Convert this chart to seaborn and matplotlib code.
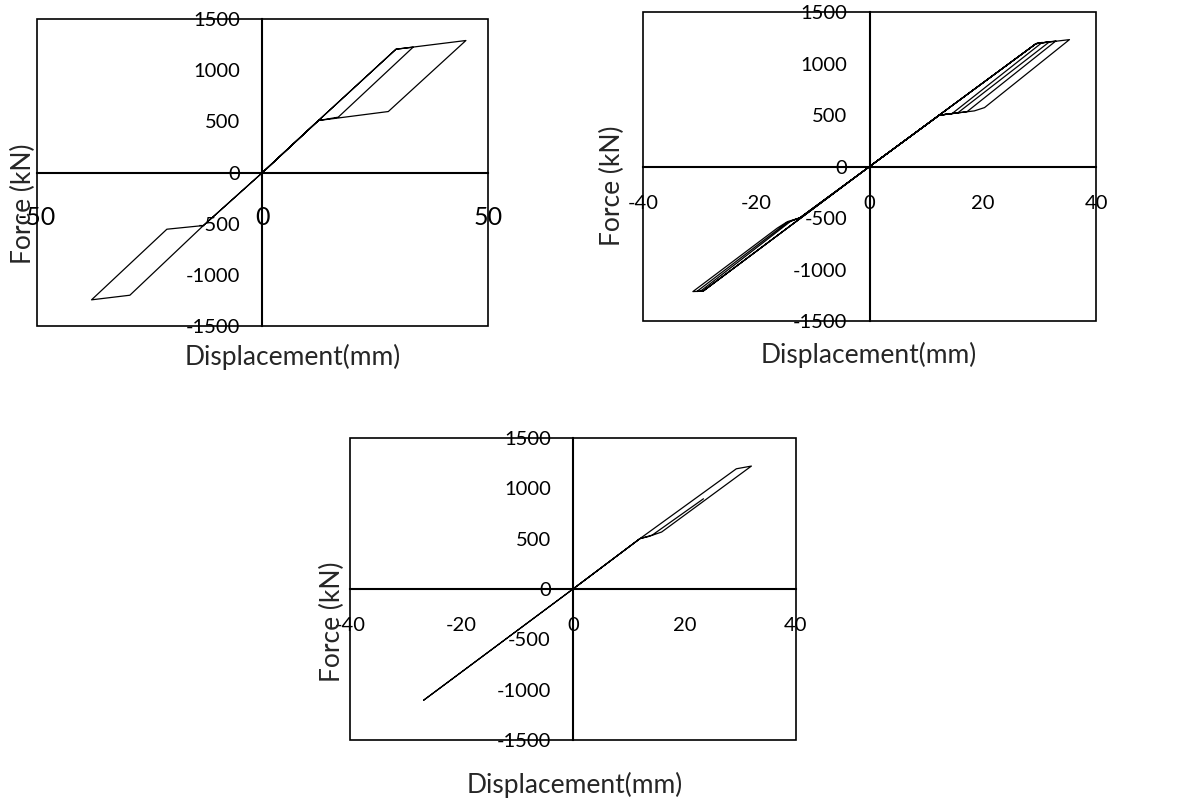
import matplotlib.pyplot as plt
import seaborn as sns
from matplotlib.patches import Rectangle

# panel 1 (top left)
disp_a = [0, 12.4, 29.6, 33.4, 16.8, 12.4, 0, -13.1, -29.4, -37.9, -21.2, -13.1, 0,
          12.4, 29.6, 45.1, 27.9, 12.4, 0]
force_a = [0, 508, 1205, 1225, 541, 508, 0, -518, -1199, -1244, -554, -518, 0,
           508, 1205, 1290, 596, 508, 0]

# panel 2 (top right)
disp_b = [0, 29.4, 30.5, 14.6, 12.3, 0, -29.4, -29.9, -13.9, -12.3, 0,
          29.4, 31.8, 15.6, 12.3, 0, -29.4, -30.5, -14.6, -12.3, 0,
          29.4, 32.9, 17.2, 12.3, 0, -29.4, -31.2, -16.3, -14.5, -12.3, 0,
          29.4, 35.3, 20.3, 18.5, 16.5, 12.3, 0]
force_b = [0, 1193, 1205, 515, 498, 0, -1210, -1212, -530, -498, 0,
           1193, 1212, 522, 498, 0, -1210, -1213, -545, -498, 0,
           1193, 1219, 532, 498, 0, -1210, -1214, -598, -535, -498, 0,
           1193, 1232, 572, 540, 527, 498, 0]

# panel 3 (bottom)
disp_c = [0, 12.0, 29.3, 32.0, 15.9, 13.5, 12.0, 0, -26.8, 0, 12.0, 14.2, 23.4]
force_c = [0, 500, 1194, 1221, 566, 520, 500, 0, -1105, 0, 500, 535, 896]

yticks = [-1500, -1000, -500, 0, 500, 1000, 1500]

sns.set_style('white')
plt.rcParams['font.family'] = ['Lato', 'DejaVu Sans']
plt.rcParams['axes.unicode_minus'] = False

fig = plt.figure(figsize=(11.81, 8.06), dpi=100)


def panel(rect, x, y, xlim, xticks, xsize, xpad, xlab_pos, ylab_pos):
    ax = fig.add_axes(rect)
    sns.lineplot(x=x, y=y, sort=False, estimator=None, color='black', lw=0.9, ax=ax)
    ax.set_xlim(xlim)
    ax.set_ylim(-1500, 1500)
    ax.set_xticks(xticks)
    ax.set_yticks(yticks)
    ax.spines['top'].set_visible(False)
    ax.spines['right'].set_visible(False)
    ax.spines['left'].set_position(('data', 0))
    ax.spines['bottom'].set_position(('data', 0))
    for s in ['left', 'bottom']:
        ax.spines[s].set_linewidth(1.5)
        ax.spines[s].set_color('black')
    ax.tick_params(axis='y', direction='in', length=5.5, width=1.2, pad=16, labelsize=14.5, colors='black')
    ax.tick_params(axis='x', direction='in', length=5.5, width=1.2, pad=xpad, labelsize=xsize, colors='black')
    ax.add_patch(Rectangle((0, 0), 1, 1, transform=ax.transAxes, fill=False,
                           ec='black', lw=1.2, clip_on=False))
    ax.set_xlabel('Displacement(mm)', fontsize=19, va='center')
    ax.xaxis.set_label_coords(*xlab_pos)
    ax.set_ylabel('Force (kN)', fontsize=19, va='center')
    ax.yaxis.set_label_coords(*ylab_pos)
    return ax


panel([0.0313, 0.5955, 0.3819, 0.3809], disp_a, force_a, (-50, 50), [-50, 0, 50],
      18, 24, (0.568, -0.101), (-0.030, 0.397))
panel([0.5445, 0.6017, 0.3836, 0.3834], disp_b, force_b, (-40, 40), [-40, -20, 0, 20, 40],
      14.5, 20.5, (0.499, -0.110), (-0.068, 0.437))
panel([0.2964, 0.0819, 0.3776, 0.3747], disp_c, force_c, (-40, 40), [-40, -20, 0, 20, 40],
      14.5, 20, (0.504, -0.149), (-0.040, 0.391))

fig.savefig('out.png', dpi=100)
